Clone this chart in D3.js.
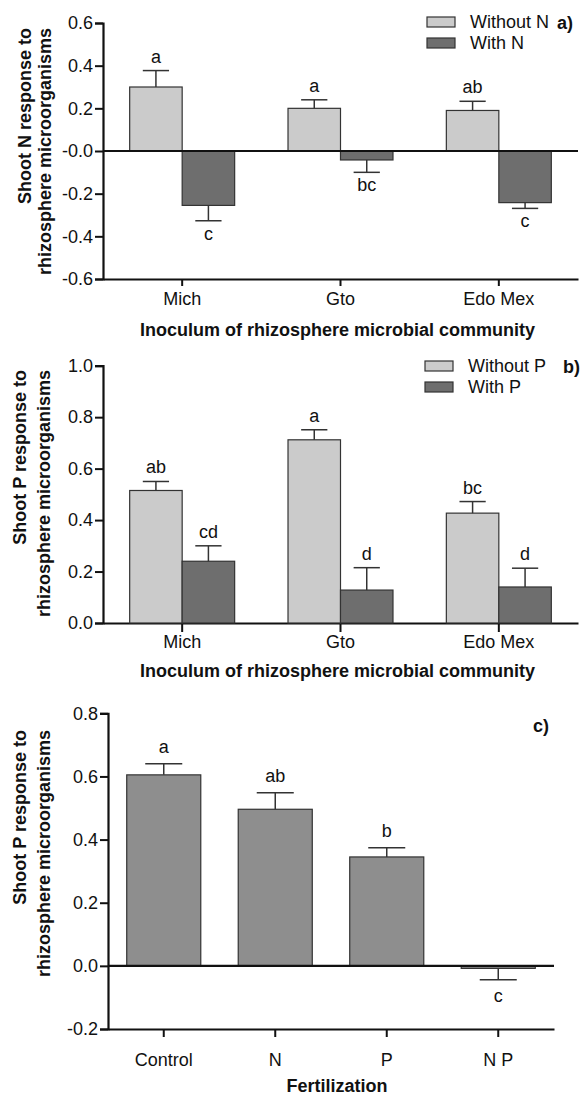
<!DOCTYPE html>
<html lang="en">
<head>
<meta charset="utf-8">
<title>Shoot N and P response to rhizosphere microorganisms</title>
<script src="https://d3js.org/d3.v7.min.js"></script>
<style>
  body { margin: 0; background: #fff; }
  svg { display: block; font-family: "Liberation Sans", Arial, sans-serif; }
  .tick text { font-size: 18px; fill: #111; font-family: "Liberation Sans", Arial, sans-serif; }
  .ytitle, .xtitle, .plabel { font-weight: bold; font-size: 18px; fill: #111; }
  .letter { font-size: 18px; fill: #111; }
  .legend text { font-size: 18px; fill: #111; }
</style>
</head>
<body>
<script>
// ---- data ----
const inocula = ["Mich", "Gto", "Edo Mex"];

// panel a: shoot N
const withoutN = [0.30, 0.20, 0.19];
const withoutNErr = [0.077, 0.04, 0.043];
const withN = [-0.255, -0.042, -0.242];
const withNErr = [0.072, 0.058, 0.027];
const withoutNLetters = ["a", "a", "ab"];
const withNLetters = ["c", "bc", "c"];

// panel b: shoot P
const withoutP = [0.515, 0.712, 0.427];
const withoutPErr = [0.035, 0.039, 0.045];
const withP = [0.24, 0.128, 0.14];
const withPErr = [0.06, 0.087, 0.073];
const withoutPLetters = ["ab", "a", "bc"];
const withPLetters = ["cd", "d", "d"];

// panel c: fertilization
const fertilization = ["Control", "N", "P", "N P"];
const fertValues = [0.605, 0.496, 0.345, -0.008];
const fertErr = [0.035, 0.052, 0.029, 0.036];
const fertLetters = ["a", "ab", "b", "c"];

const ticksA = [-0.6, -0.4, -0.2, 0, 0.2, 0.4, 0.6];
const ticksB = [0, 0.2, 0.4, 0.6, 0.8, 1.0];
const ticksC = [-0.2, 0, 0.2, 0.4, 0.6, 0.8];

const light = "#cbcbcb", dark = "#6e6e6e", mid = "#8e8e8e", edge = "#333";

const svg = d3.select("body").append("svg")
    .attr("width", 582)
    .attr("height", 1095);

// builds one panel
function panel(cfg) {
    const g = svg.append("g");
    const y = d3.scaleLinear().domain(cfg.domain).range([cfg.bottom, cfg.top]);
    const x = d3.scaleBand().domain(cfg.cats).range([cfg.left, cfg.right])
        .paddingInner(cfg.pad).paddingOuter(cfg.pad / 2);
    const xs = d3.scaleBand().domain(d3.range(cfg.series.length)).range([0, x.bandwidth()]);

    // plain hyphen for negatives, like the original
    const fmt = d => (d === 0 && cfg.negZero) ? "-0.0" : d3.format(".1f")(d).replace("\u2212", "-");

    // y axis
    const yAxis = g.append("g")
        .attr("transform", `translate(${cfg.left},0)`)
        .call(d3.axisLeft(y).tickValues(cfg.ticks).tickFormat(fmt).tickSize(8).tickPadding(2));
    yAxis.select(".domain").attr("stroke-width", 2.2).attr("stroke", "#111");
    yAxis.selectAll(".tick line").attr("stroke-width", 2).attr("stroke", "#111");

    // x axis at bottom of range
    const xAxis = g.append("g")
        .attr("transform", `translate(0,${cfg.bottom})`)
        .call(d3.axisBottom(x).tickSize(cfg.tickLen).tickPadding(cfg.labelPad).tickSizeOuter(0));
    xAxis.select(".domain").attr("stroke-width", 2.2).attr("stroke", "#111");
    xAxis.selectAll(".tick line").attr("stroke-width", 2).attr("stroke", "#111");

    // bars
    cfg.series.forEach((s, si) => {
        const sg = g.append("g");
        cfg.cats.forEach((c, i) => {
            const v = s.values[i], e = s.err[i];
            const bx = x(c) + xs(si), bw = xs.bandwidth();
            sg.append("rect")
                .attr("x", bx).attr("width", bw)
                .attr("y", y(Math.max(0, v)))
                .attr("height", Math.abs(y(v) - y(0)))
                .attr("fill", s.color).attr("stroke", edge).attr("stroke-width", 1.2);
            const tip = v >= 0 ? v + e : v - e;
            const cx = bx + bw / 2;
            sg.append("line").attr("x1", cx).attr("x2", cx)
                .attr("y1", y(v)).attr("y2", y(tip))
                .attr("stroke", edge).attr("stroke-width", 1.5);
            sg.append("line").attr("x1", cx - bw / 4).attr("x2", cx + bw / 4)
                .attr("y1", y(tip)).attr("y2", y(tip))
                .attr("stroke", edge).attr("stroke-width", 1.5);
            sg.append("text").attr("class", "letter")
                .attr("x", cx).attr("text-anchor", "middle")
                .attr("y", v >= 0 ? y(tip) - cfg.above : y(tip) + cfg.below)
                .text(s.letters[i]);
        });
    });

    // zero line
    if (cfg.domain[0] < 0) {
        g.append("line").attr("x1", cfg.left).attr("x2", cfg.right)
            .attr("y1", y(0)).attr("y2", y(0))
            .attr("stroke", "#111").attr("stroke-width", 2.2);
    }

    // y title, two lines, ends aligned at the top
    cfg.ytitle.forEach((t, i) => {
        g.append("text").attr("class", "ytitle")
            .attr("text-anchor", "end")
            .attr("transform", `translate(${cfg.ytitleX[i]},${cfg.ytitleTop}) rotate(-90)`)
            .text(t);
    });

    g.append("text").attr("class", "xtitle")
        .attr("x", (cfg.left + cfg.right) / 2 + cfg.xtitleDx).attr("y", cfg.xtitleY)
        .attr("text-anchor", "middle").text(cfg.xtitle);

    g.append("text").attr("class", "plabel")
        .attr("x", cfg.plabel[0]).attr("y", cfg.plabel[1]).text(cfg.plabel[2]);

    // legend
    if (cfg.legend) {
        const lg = g.append("g").attr("class", "legend");
        cfg.series.forEach((s, si) => {
            const ly = cfg.legend[1] + si * 21;
            lg.append("rect").attr("x", cfg.legend[0]).attr("y", ly)
                .attr("width", 28).attr("height", 10)
                .attr("fill", s.color).attr("stroke", edge).attr("stroke-width", 1.2);
            lg.append("text").attr("x", cfg.legend[0] + 43).attr("y", ly + 11).text(s.name);
        });
    }
}

panel({
    cats: inocula, domain: [-0.6, 0.6], ticks: ticksA, negZero: true,
    left: 103, right: 578, top: 23, bottom: 279, pad: 0.337,
    tickLen: 7, labelPad: 6, above: 8, below: 19,
    series: [
        { name: "Without N", values: withoutN, err: withoutNErr, letters: withoutNLetters, color: light },
        { name: "With N", values: withN, err: withNErr, letters: withNLetters, color: dark }
    ],
    ytitle: ["Shoot N response to", "rhizosphere microorganisms"],
    ytitleX: [31, 51], ytitleTop: 28,
    xtitle: "Inoculum of rhizosphere microbial community", xtitleY: 336, xtitleDx: -3,
    plabel: [557, 29, "a)"], legend: [427, 17]
});

panel({
    cats: inocula, domain: [0, 1.0], ticks: ticksB, negZero: false,
    left: 103, right: 578, top: 365.7, bottom: 623, pad: 0.337,
    tickLen: 9, labelPad: 3, above: 8, below: 19,
    series: [
        { name: "Without P", values: withoutP, err: withoutPErr, letters: withoutPLetters, color: light },
        { name: "With P", values: withP, err: withPErr, letters: withPLetters, color: dark }
    ],
    ytitle: ["Shoot P response to", "rhizosphere microorganisms"],
    ytitleX: [26, 50], ytitleTop: 370,
    xtitle: "Inoculum of rhizosphere microbial community", xtitleY: 677, xtitleDx: -3,
    plabel: [563, 373, "b)"], legend: [425, 361]
});

panel({
    cats: fertilization, domain: [-0.2, 0.8], ticks: ticksC, negZero: false,
    left: 108, right: 554, top: 713.3, bottom: 1029, pad: 0.336,
    tickLen: 8, labelPad: 16, above: 11, below: 22,
    series: [
        { name: "Fertilization", values: fertValues, err: fertErr, letters: fertLetters, color: mid }
    ],
    ytitle: ["Shoot P response to", "rhizosphere microorganisms"],
    ytitleX: [26, 50], ytitleTop: 730,
    xtitle: "Fertilization", xtitleY: 1092, xtitleDx: 6,
    plabel: [533, 732, "c)"], legend: null
});
</script>
</body>
</html>
